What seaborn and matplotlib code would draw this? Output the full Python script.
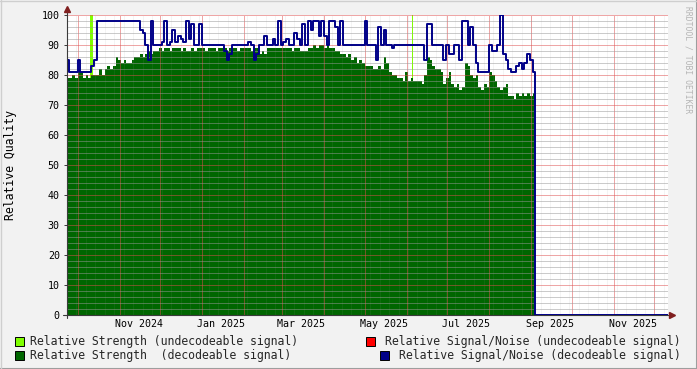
import numpy as np
import pandas as pd
import matplotlib
matplotlib.use("Agg")
import matplotlib.pyplot as plt
import matplotlib.dates as mdates
from matplotlib.ticker import MultipleLocator
from matplotlib.patches import Rectangle
from matplotlib.lines import Line2D
import seaborn as sns

# ---------------- data ----------------
series_start = "2024-09-23"
bin_days = 2
x_start = "2024-09-23 04:00"
x_end = "2025-12-11 00:00"

strength_decodeable = [
    79, 79, 80, 79, 82, 81, 79, 80, 79, 80,
    80, 80, 82, 80, 82, 83, 82, 83, 86, 85,
    84, 85, 84, 84, 85, 86, 86, 87, 86, 87,
    88, 87, 88, 88, 89, 88, 89, 89, 88, 89,
    89, 89, 88, 89, 88, 88, 89, 88, 89, 89,
    89, 88, 89, 89, 89, 88, 89, 89, 89, 88,
    89, 89, 89, 88, 89, 89, 89, 89, 88, 89,
    89, 87, 88, 87, 89, 89, 89, 89, 89, 89,
    89, 89, 89, 88, 89, 89, 88, 88, 88, 89,
    89, 90, 89, 90, 90, 89, 90, 89, 89, 88,
    88, 87, 87, 86, 87, 85, 86, 84, 85, 84,
    83, 83, 83, 82, 82, 83, 82, 86, 84, 81,
    80, 80, 79, 79, 78, 81, 78, 79, 78, 78,
    78, 77, 80, 86, 85, 83, 82, 82, 81, 77,
    79, 81, 77, 76, 77, 75, 76, 84, 83, 80,
    79, 80, 76, 75, 77, 76, 81, 80, 78, 76,
    75, 76, 77, 73, 73, 72, 74, 73, 74, 73,
    74, 73, 74,
]

snr_decodeable = [
    85, 81, 81, 81, 85, 81, 81, 81, 81, 83,
    85, 98, 98, 98, 98, 98, 98, 98, 98, 98,
    98, 98, 98, 98, 98, 98, 98, 95, 94, 90,
    85, 98, 90, 90, 90, 91, 98, 90, 91, 95,
    91, 93, 92, 91, 98, 92, 97, 90, 90, 97,
    90, 90, 90, 90, 90, 90, 90, 90, 88, 85,
    87, 90, 90, 90, 90, 90, 90, 91, 90, 85,
    87, 90, 90, 93, 90, 90, 92, 90, 98, 90,
    91, 92, 90, 90, 94, 92, 90, 97, 90, 98,
    95, 98, 98, 93, 98, 93, 90, 98, 98, 96,
    90, 98, 90, 90, 90, 90, 90, 90, 90, 90,
    98, 90, 90, 90, 85, 96, 90, 95, 90, 90,
    89, 90, 90, 90, 90, 90, 90, 90, 90, 90,
    90, 90, 85, 97, 97, 90, 90, 90, 90, 85,
    90, 87, 87, 90, 90, 85, 98, 98, 90, 96,
    90, 84, 81, 81, 81, 81, 90, 88, 88, 90,
    100, 87, 85, 82, 81, 81, 83, 84, 82, 84,
    87, 85, 81,
]
snr_after_end = 0

strength_undecodeable_dates = ["2024-10-10", "2024-10-12", "2025-06-05", "2025-06-06"]
strength_undecodeable = [100, 0, 100, 0]

y_ticks = [0, 10, 20, 30, 40, 50, 60, 70, 80, 90, 100]

legend_labels = [
    "Relative Strength (undecodeable signal)",
    "Relative Signal/Noise (undecodeable signal)",
    "Relative Strength  (decodeable signal)",
    "Relative Signal/Noise (decodeable signal)",
]

# ---------------- style ----------------
BG = "#f2f2f2"
LIME = "#80ff00"
RED = "#ff0000"
GREEN = "#006600"
NAVY = "#000088"
GRID = (0.6, 0.6, 0.6, 0.2)
MGRID = (0.87, 0.31, 0.31, 0.25)
ARROW = "#801f1f"
AXISC = "#3a3a3a"
MONO = "DejaVu Sans Mono"

sns.set_theme(style="white")
plt.rcParams["font.family"] = [MONO, "DejaVu Sans"]
plt.rcParams["lines.scale_dashes"] = False

W_PX, H_PX = 697, 369
fig = plt.figure(figsize=(W_PX / 100, H_PX / 100), dpi=100, facecolor=BG)
px_l, px_r, px_t, px_b = 67, 668, 15, 315
ax = fig.add_axes([px_l / W_PX, 1 - px_b / H_PX, (px_r - px_l) / W_PX, (px_b - px_t) / H_PX])
ax.set_facecolor("white")

dates = pd.date_range(series_start, periods=len(strength_decodeable), freq=f"{bin_days}D")
end_edge = dates[-1] + pd.Timedelta(days=bin_days)
xs = list(dates) + [end_edge]

# undecodeable strength (lime) - drawn first
lime_x = pd.to_datetime(strength_undecodeable_dates)
ax.fill_between(lime_x, strength_undecodeable, step="post", color=LIME, lw=0, zorder=1)

# decodeable strength (green area)
ax.fill_between(xs, strength_decodeable + [strength_decodeable[-1]], step="post",
                color=GREEN, lw=0, zorder=1.2)

# decodeable SNR (navy step line)
snr_df = pd.DataFrame({
    "date": list(dates) + [end_edge, pd.Timestamp(x_end)],
    "snr": snr_decodeable + [snr_after_end, snr_after_end],
})
sns.lineplot(data=snr_df, x="date", y="snr", ax=ax, color=NAVY, lw=1.4,
             drawstyle="steps-post", estimator=None, zorder=4)

ax.set_xlim(pd.Timestamp(x_start), pd.Timestamp(x_end))
ax.set_ylim(0, 100)
ax.set_xlabel("")
ax.set_ylabel("")

# grid (1px dotted, drawn over the areas)
dash = (0, (0.72, 0.72))
glw = 0.72
ax.set_axisbelow(False)
ax.yaxis.set_major_locator(MultipleLocator(10))
ax.yaxis.set_minor_locator(MultipleLocator(2))
ax.set_yticks(y_ticks)
ax.grid(which="minor", axis="y", color=GRID, lw=glw, linestyle=dash)
ax.grid(which="major", axis="y", color=MGRID, lw=glw, linestyle=dash)

weeks = mdates.WeekdayLocator(byweekday=mdates.MO)
weeks.set_axis(ax.xaxis)
for d in weeks.tick_values(pd.Timestamp(x_start), pd.Timestamp(x_end)):
    ax.axvline(d, color=GRID, lw=glw, linestyle=dash, zorder=2.5)

ax.xaxis.set_minor_locator(mdates.MonthLocator())
ax.grid(which="minor", axis="x", color=MGRID, lw=glw, linestyle=dash)
ax.xaxis.set_major_locator(mdates.MonthLocator(bymonth=[1, 3, 5, 7, 9, 11], bymonthday=15))
ax.xaxis.set_major_formatter(mdates.DateFormatter("%b %Y"))
ax.grid(which="major", axis="x", visible=False)

for s in ax.spines.values():
    s.set_visible(False)

ax.tick_params(axis="x", which="major", length=0, pad=3, labelsize=7.2, labelcolor="black")
ax.tick_params(axis="x", which="minor", length=2.2, width=0.7, color=(0.87, 0.31, 0.31, 0.7),
               direction="out")
ax.tick_params(axis="y", which="major", length=2.2, width=0.7, color=AXISC, direction="out",
               pad=3, labelsize=7.2, labelcolor="black", left=True)
ax.tick_params(axis="y", which="minor", length=0)
for lab in ax.get_xticklabels() + ax.get_yticklabels():
    lab.set_family(MONO)

# axes lines with arrows
pw, ph = px_r - px_l, px_b - px_t
ax.add_line(Line2D([0, 0], [-3 / ph, 1 + 3 / ph], color=AXISC, lw=0.8,
                   transform=ax.transAxes, clip_on=False, zorder=5))
ax.add_line(Line2D([-4 / pw, 1 + 3 / pw], [0, 0], color=AXISC, lw=0.8,
                   transform=ax.transAxes, clip_on=False, zorder=3))
ax.plot([0], [1 + 6 / ph], marker="^", ms=4.5, color=ARROW, mec=ARROW,
        transform=ax.transAxes, clip_on=False, zorder=6)
ax.plot([1 + 4 / pw], [0], marker=">", ms=4.5, color=ARROW, mec=ARROW,
        transform=ax.transAxes, clip_on=False, zorder=6)

# y label
fig.text(11 / W_PX, 1 - 165 / H_PX, "Relative Quality", rotation=90, ha="center",
         va="center", fontsize=8.3, family=MONO, color="black")

# watermark
fig.text(688 / W_PX, 1 - 60 / H_PX, "RRDTOOL / TOBI OETIKER", rotation=270, ha="center",
         va="center", fontsize=5.8, family=MONO, color="#b5b5b5")

# legend
legend_colors = [LIME, RED, GREEN, NAVY]
rows_y = [341, 355]
for i, (lab, col) in enumerate(zip(legend_labels, legend_colors)):
    row = i // 2
    yc = 1 - rows_y[row] / H_PX
    if i % 2 == 0:
        fig.text(30 / W_PX, yc, lab, ha="left", va="center", fontsize=8.3, family=MONO)
        sq_x = 15
    else:
        fig.text(681 / W_PX, yc, lab, ha="right", va="center", fontsize=8.3, family=MONO)
        sq_x = 681 - len(lab) * 6.97 - 15
    fig.patches.append(Rectangle((sq_x / W_PX, yc - 4.5 / H_PX), 9 / W_PX, 9 / H_PX,
                                 transform=fig.transFigure, facecolor=col,
                                 edgecolor="black", lw=0.7))

# frame shading
fig.add_artist(Line2D([0, 1], [0.5 / H_PX, 0.5 / H_PX], transform=fig.transFigure, color="#9e9e9e", lw=1.5))
fig.add_artist(Line2D([1 - 0.5 / W_PX, 1 - 0.5 / W_PX], [0, 1], transform=fig.transFigure, color="#9e9e9e", lw=1.5))
fig.add_artist(Line2D([0, 1], [1 - 0.5 / H_PX, 1 - 0.5 / H_PX], transform=fig.transFigure, color="#cfcfcf", lw=1.0))
fig.add_artist(Line2D([0.5 / W_PX, 0.5 / W_PX], [0, 1], transform=fig.transFigure, color="#cfcfcf", lw=1.0))

fig.savefig("out.png", dpi=100, facecolor=BG)
